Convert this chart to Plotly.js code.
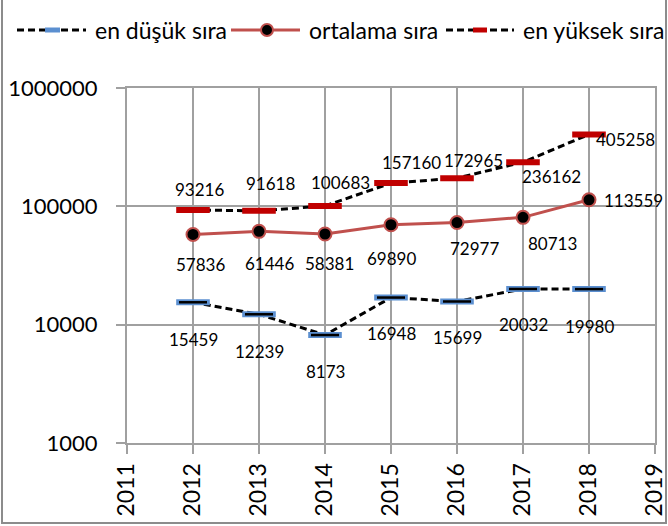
<!DOCTYPE html>
<html>
<head>
<meta charset="utf-8">
<script src="https://cdn.plot.ly/plotly-3.0.1.min.js"></script>
<style>
html,body{margin:0;padding:0;background:#fff;}
#chart{width:668px;height:526px;}
</style>
</head>
<body>
<div id="chart"></div>
<script>
// ---- data ----
const years = [2012, 2013, 2014, 2015, 2016, 2017, 2018];
const lowRank = [15459, 12239, 8173, 16948, 15699, 20032, 19980];
const avgRank = [57836, 61446, 58381, 69890, 72977, 80713, 113559];
const highRank = [93216, 91618, 100683, 157160, 172965, 236162, 405258];
const seriesNames = ["en düşük sıra", "ortalama sıra", "en yüksek sıra"];
const yTickVals = [1000, 10000, 100000, 1000000];
const yTickText = ["1000", "10000", "100000", "1000000"];

// ---- label offsets (styling, px) ----
const lowOff  = [[0,37],[0,37],[0,36],[0,36],[0,36],[0,36],[0,37]];
const avgOff  = [[7,30],[10,32],[4,30],[0,34],[17,26],[29,26],[44,1]];
const highOff = [[6,-20],[11,-27],[15,-23],[20,-21],[16,-18],[28,14],[36,5]];

const FONT = "Lato, 'Liberation Sans', sans-serif";
const GRID = "#a0a0a0";
const BLUE = "#5b8fd0", DRED = "#c00000", MRED = "#c0504d";
const DASH = "7px,4px";

// plot area geometry (px) for paper conversions
const W = 668, H = 526, ML = 127, MR = 13, MT = 88, MB = 83;
const PW = W - ML - MR, PH = H - MT - MB;
const px = v => (v - ML) / PW;
const py = v => (H - MB - v) / PH;

const traces = [
  {
    x: years, y: lowRank, name: seriesNames[0], type: "scatter", mode: "lines+markers",
    line: {color: "#000", width: 3, dash: DASH},
    marker: {symbol: "line-ew", size: 24, color: BLUE, line: {color: BLUE, width: 6}}
  },
  {
    x: years, y: lowRank, type: "scatter", mode: "markers", showlegend: false, hoverinfo: "skip",
    marker: {symbol: "line-ew", size: 20, color: "#000", line: {color: "#000", width: 2.5}}
  },
  {
    x: years, y: avgRank, name: seriesNames[1], type: "scatter", mode: "lines+markers",
    line: {color: MRED, width: 3},
    marker: {symbol: "circle", size: 13, color: "#000", line: {color: MRED, width: 2}}
  },
  {
    x: years, y: highRank, name: seriesNames[2], type: "scatter", mode: "lines+markers",
    line: {color: "#000", width: 3, dash: DASH},
    marker: {symbol: "line-ew", size: 24, color: DRED, line: {color: DRED, width: 6}}
  }
];

const annotations = [];
function addLabels(vals, offs) {
  vals.forEach((v, i) => {
    annotations.push({
      x: years[i], y: Math.log10(v), xref: "x", yref: "y",
      text: String(v), showarrow: false,
      xshift: offs[i][0], yshift: -offs[i][1],
      font: {family: FONT, size: 17, color: "#000"}
    });
  });
}
addLabels(lowRank, lowOff);
addLabels(avgRank, avgOff);
addLabels(highRank, highOff);

// ---- custom legend (layout decoration) ----
const LEG_Y = 30;
const legendItems = [
  {x0: 17, x1: 86, tx: 93, kind: "dash", mark: BLUE, m0: 45, m1: 60},
  {x0: 231, x1: 300, tx: 307, kind: "circle", mark: MRED, m0: 267},
  {x0: 446, x1: 514, tx: 521, kind: "dash", mark: DRED, m0: 473, m1: 487}
];
const shapes = [{
  type: "rect", xref: "paper", yref: "paper",
  x0: px(2), x1: px(666), y0: py(523), y1: py(-10),
  line: {color: "#8c8c8c", width: 2}, fillcolor: "rgba(0,0,0,0)", layer: "below"
}];
legendItems.forEach((it, i) => {
  if (it.kind === "dash") {
    shapes.push({type: "line", xref: "paper", yref: "paper",
      x0: px(it.x0), x1: px(it.x1), y0: py(LEG_Y), y1: py(LEG_Y),
      line: {color: "#000", width: 3, dash: DASH}});
    shapes.push({type: "line", xref: "paper", yref: "paper",
      x0: px(it.m0), x1: px(it.m1), y0: py(LEG_Y), y1: py(LEG_Y),
      line: {color: it.mark, width: 5}});
  } else {
    shapes.push({type: "line", xref: "paper", yref: "paper",
      x0: px(it.x0), x1: px(it.x1), y0: py(LEG_Y), y1: py(LEG_Y),
      line: {color: it.mark, width: 3}});
    shapes.push({type: "circle", xref: "paper", yref: "paper",
      x0: px(it.m0 - 6), x1: px(it.m0 + 6), y0: py(LEG_Y + 6), y1: py(LEG_Y - 6),
      fillcolor: "#000", line: {color: it.mark, width: 2}});
  }
  annotations.push({
    xref: "paper", yref: "paper", x: px(it.tx), y: py(LEG_Y),
    xanchor: "left", yanchor: "middle", showarrow: false,
    text: seriesNames[i], font: {family: FONT, size: 23, color: "#000"}
  });
});

const layout = {
  width: W, height: H,
  margin: {l: ML, r: MR, t: MT, b: MB, pad: 0},
  paper_bgcolor: "#fff", plot_bgcolor: "#fff",
  font: {family: FONT, color: "#000"},
  showlegend: false,
  xaxis: {
    range: [2011, 2019], dtick: 1, tick0: 2011, tickangle: -90,
    showgrid: true, gridcolor: GRID, gridwidth: 2,
    showline: true, linecolor: GRID, linewidth: 2, mirror: true,
    ticks: "outside", ticklen: 9, tickcolor: GRID, tickwidth: 2,
    tickfont: {family: FONT, size: 23, color: "#000"}, zeroline: false
  },
  yaxis: {
    type: "log", range: [3, 6],
    tickvals: yTickVals, ticktext: yTickText,
    showgrid: true, gridcolor: GRID, gridwidth: 2,
    showline: true, linecolor: GRID, linewidth: 2, mirror: true,
    ticks: "outside", ticklen: 9, tickcolor: GRID, tickwidth: 2,
    ticklabelstandoff: 14,
    tickfont: {family: FONT, size: 22, color: "#000"}, zeroline: false
  },
  annotations: annotations,
  shapes: shapes
};

Plotly.newPlot("chart", traces, layout, {staticPlot: true, displayModeBar: false});
</script>
</body>
</html>
